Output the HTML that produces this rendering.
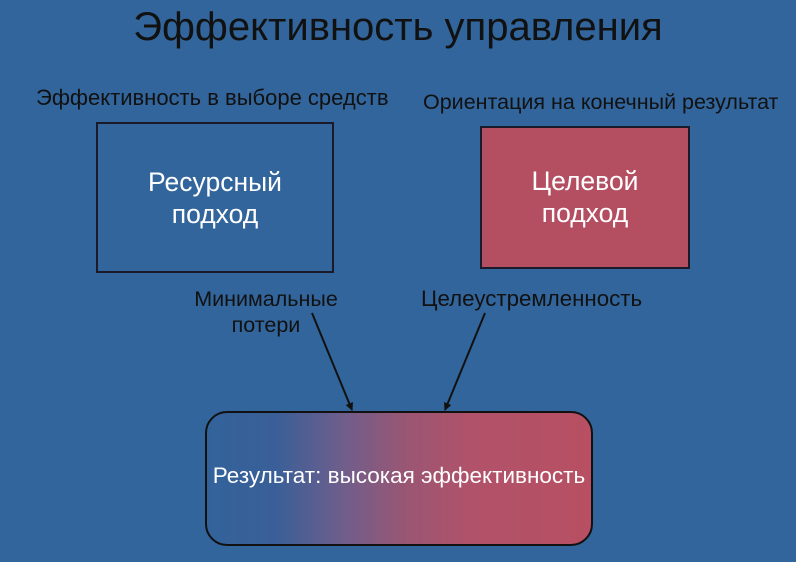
<!DOCTYPE html>
<html><head><meta charset="utf-8"><style>
body{margin:0;width:796px;height:562px;background:#32659b;position:relative;overflow:hidden;font-family:"Liberation Sans",sans-serif;}
.t{position:absolute;white-space:nowrap;}
</style></head><body>
<div class="t" style="left:0;width:796px;text-align:center;top:5px;font-size:40px;color:#111;">Эффективность управления</div>
<div class="t" style="left:36px;top:85px;font-size:22px;color:#111;">Эффективность в выборе средств</div>
<div class="t" style="left:423px;top:90px;font-size:21.5px;color:#111;">Ориентация на конечный результат</div>
<div style="position:absolute;left:96px;top:122px;width:234px;height:147px;border:2px solid #1a1a2a;"></div>
<div class="t" style="left:96px;width:238px;text-align:center;top:166px;font-size:26.5px;line-height:32px;color:#fff;">Ресурсный<br>подход</div>
<div style="position:absolute;left:480px;top:126px;width:206px;height:139px;border:2px solid #1a1a2a;background:#b44f62;"></div>
<div class="t" style="left:480px;width:210px;text-align:center;top:165px;font-size:26.5px;line-height:32px;color:#fff;">Целевой<br>подход</div>
<div class="t" style="left:180px;width:172px;text-align:center;top:286px;font-size:21.5px;line-height:26px;color:#111;">Минимальные<br>потери</div>
<div class="t" style="left:421px;top:286px;font-size:22.3px;color:#111;">Целеустремленность</div>
<div style="position:absolute;left:205px;top:411px;width:384px;height:131px;border:2px solid #111;border-radius:22px;background:linear-gradient(to right,#33629a 0%,#3a5f98 18%,#6e5e8c 35%,#9a5673 52%,#b0526a 68%,#b84f62 100%);"></div>
<div class="t" style="left:205px;width:388px;text-align:center;top:463px;font-size:22.5px;color:#fff;">Результат: высокая эффективность</div>
<svg width="796" height="562" style="position:absolute;left:0;top:0">
<defs><marker id="a" markerWidth="8" markerHeight="8" refX="7" refY="4" orient="auto" markerUnits="userSpaceOnUse"><path d="M0,0L8,4L0,8z" fill="#111"/></marker></defs>
<line x1="312" y1="313" x2="352" y2="410" stroke="#111" stroke-width="2" marker-end="url(#a)"/>
<line x1="485" y1="313" x2="445" y2="410" stroke="#111" stroke-width="2" marker-end="url(#a)"/>
</svg>
</body></html>
